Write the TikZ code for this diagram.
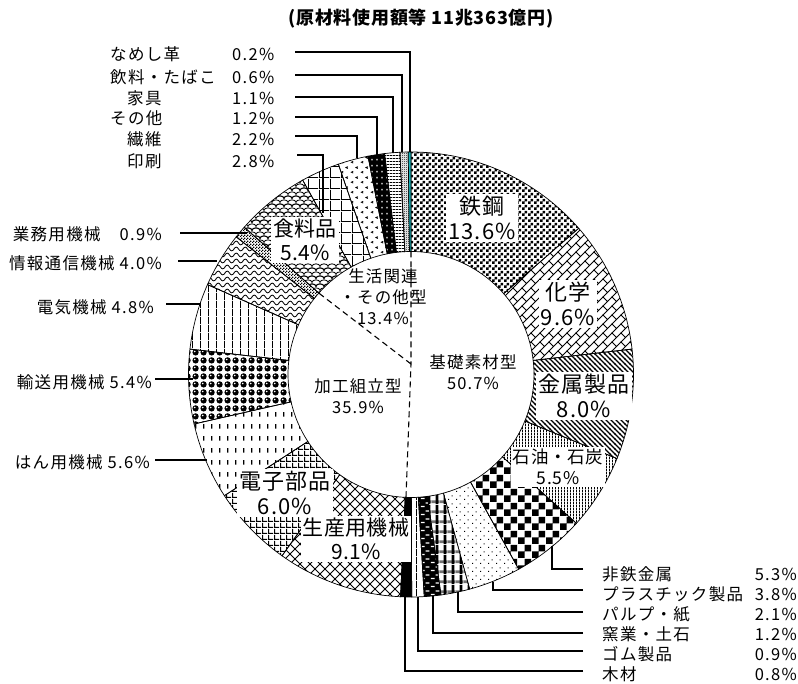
\documentclass[tikz,border=0pt]{standalone}
\usepackage{fontspec}
\setmainfont{Noto Sans CJK JP}
\usetikzlibrary{patterns,calc}

\definecolor{leather}{RGB}{24,178,184}

\pgfdeclarepatternformonly{sqdots}{\pgfpointorigin}{\pgfpoint{6pt}{6pt}}{\pgfpoint{6pt}{6pt}}{\pgfpathrectangle{\pgfpointorigin}{\pgfpoint{3pt}{3pt}}\pgfpathrectangle{\pgfpoint{3pt}{3pt}}{\pgfpoint{3pt}{3pt}}\pgfusepath{fill}}
\pgfdeclarepatternformonly{dbrick}{\pgfpoint{-1pt}{-1pt}}{\pgfpoint{10pt}{10pt}}{\pgfpoint{9pt}{9pt}}{\pgfsetlinewidth{0.8pt}\pgfpathmoveto{\pgfpoint{-0.5pt}{-0.5pt}}\pgfpathlineto{\pgfpoint{9.5pt}{9.5pt}}\pgfpathmoveto{\pgfpoint{0pt}{9pt}}\pgfpathlineto{\pgfpoint{4.5pt}{4.5pt}}\pgfusepath{stroke}}
\pgfdeclarepatternformonly{dlines}{\pgfpoint{-1pt}{-1pt}}{\pgfpoint{6pt}{6pt}}{\pgfpoint{5pt}{5pt}}{\pgfsetlinewidth{1.3pt}\pgfpathmoveto{\pgfpoint{-0.5pt}{5.5pt}}\pgfpathlineto{\pgfpoint{5.5pt}{-0.5pt}}\pgfusepath{stroke}}
\pgfdeclarepatternformonly{vfine}{\pgfpointorigin}{\pgfpoint{3pt}{3pt}}{\pgfpoint{3pt}{3pt}}{\pgfpathrectangle{\pgfpointorigin}{\pgfpoint{1.1pt}{3pt}}\pgfusepath{fill}}
\pgfdeclarepatternformonly{vmid}{\pgfpointorigin}{\pgfpoint{8pt}{8pt}}{\pgfpoint{8pt}{8pt}}{\pgfpathrectangle{\pgfpointorigin}{\pgfpoint{1pt}{8pt}}\pgfusepath{fill}}
\pgfdeclarepatternformonly{hlines}{\pgfpointorigin}{\pgfpoint{3pt}{3pt}}{\pgfpoint{3pt}{3pt}}{\pgfpathrectangle{\pgfpointorigin}{\pgfpoint{3pt}{1.1pt}}\pgfusepath{fill}}
\pgfdeclarepatternformonly{checker}{\pgfpointorigin}{\pgfpoint{14pt}{14pt}}{\pgfpoint{14pt}{14pt}}{\pgfpathrectangle{\pgfpointorigin}{\pgfpoint{7pt}{7pt}}\pgfpathrectangle{\pgfpoint{7pt}{7pt}}{\pgfpoint{7pt}{7pt}}\pgfusepath{fill}}
\pgfdeclarepatternformonly{minick}{\pgfpointorigin}{\pgfpoint{3pt}{3pt}}{\pgfpoint{3pt}{3pt}}{\pgfpathrectangle{\pgfpointorigin}{\pgfpoint{1.5pt}{1.5pt}}\pgfpathrectangle{\pgfpoint{1.5pt}{1.5pt}}{\pgfpoint{1.5pt}{1.5pt}}\pgfusepath{fill}}
\pgfdeclarepatternformonly{fineck}{\pgfpointorigin}{\pgfpoint{2pt}{2pt}}{\pgfpoint{2pt}{2pt}}{\pgfpathrectangle{\pgfpointorigin}{\pgfpoint{1pt}{1pt}}\pgfpathrectangle{\pgfpoint{1pt}{1pt}}{\pgfpoint{1pt}{1pt}}\pgfusepath{fill}}
\pgfdeclarepatternformonly{sdots}{\pgfpointorigin}{\pgfpoint{8pt}{8pt}}{\pgfpoint{8pt}{8pt}}{\pgfpathrectangle{\pgfpointorigin}{\pgfpoint{1.2pt}{1.2pt}}\pgfpathrectangle{\pgfpoint{4pt}{4pt}}{\pgfpoint{1.2pt}{1.2pt}}\pgfusepath{fill}}
\pgfdeclarepatternformonly{wdash}{\pgfpointorigin}{\pgfpoint{10pt}{8pt}}{\pgfpoint{10pt}{8pt}}{\pgfpathrectangle{\pgfpoint{1pt}{1pt}}{\pgfpoint{4pt}{1.3pt}}\pgfpathrectangle{\pgfpoint{6pt}{5pt}}{\pgfpoint{4pt}{1.3pt}}\pgfusepath{fill}}
\pgfdeclarepatternformonly{wdots}{\pgfpointorigin}{\pgfpoint{5pt}{6pt}}{\pgfpoint{5pt}{6pt}}{\pgfpathrectangle{\pgfpoint{1.5pt}{2pt}}{\pgfpoint{1.6pt}{1.6pt}}\pgfusepath{fill}}
\pgfdeclarepatternformonly{xhatch}{\pgfpoint{-1pt}{-1pt}}{\pgfpoint{11pt}{11pt}}{\pgfpoint{10pt}{10pt}}{\pgfsetlinewidth{0.8pt}\pgfpathmoveto{\pgfpoint{-0.5pt}{-0.5pt}}\pgfpathlineto{\pgfpoint{10.5pt}{10.5pt}}\pgfpathmoveto{\pgfpoint{-0.5pt}{10.5pt}}\pgfpathlineto{\pgfpoint{10.5pt}{-0.5pt}}\pgfusepath{stroke}}
\pgfdeclarepatternformonly{smgrid}{\pgfpointorigin}{\pgfpoint{5.5pt}{5.5pt}}{\pgfpoint{5.5pt}{5.5pt}}{\pgfpathrectangle{\pgfpointorigin}{\pgfpoint{1.1pt}{5.5pt}}\pgfpathrectangle{\pgfpointorigin}{\pgfpoint{5.5pt}{1.1pt}}\pgfusepath{fill}}
\pgfdeclarepatternformonly{bgrid}{\pgfpointorigin}{\pgfpoint{11pt}{11pt}}{\pgfpoint{11pt}{11pt}}{\pgfpathrectangle{\pgfpointorigin}{\pgfpoint{1pt}{11pt}}\pgfpathrectangle{\pgfpointorigin}{\pgfpoint{11pt}{1pt}}\pgfusepath{fill}}
\pgfdeclarepatternformonly{vdash}{\pgfpointorigin}{\pgfpoint{8pt}{12pt}}{\pgfpoint{8pt}{12pt}}{\pgfpathrectangle{\pgfpoint{3.5pt}{3.5pt}}{\pgfpoint{1.3pt}{5pt}}\pgfusepath{fill}}
\pgfdeclarepatternformonly{wave}{\pgfpoint{-0.5pt}{0pt}}{\pgfpoint{9.5pt}{6pt}}{\pgfpoint{9pt}{6pt}}{\pgfsetlinewidth{0.8pt}\pgfpathmoveto{\pgfpoint{0pt}{3pt}}\pgfpathcurveto{\pgfpoint{1.5pt}{5.5pt}}{\pgfpoint{3pt}{5.5pt}}{\pgfpoint{4.5pt}{3pt}}\pgfpathcurveto{\pgfpoint{6pt}{0.5pt}}{\pgfpoint{7.5pt}{0.5pt}}{\pgfpoint{9pt}{3pt}}\pgfusepath{stroke}}
\pgfdeclarepatternformonly{scallop}{\pgfpoint{-4pt}{0pt}}{\pgfpoint{12pt}{9pt}}{\pgfpoint{8pt}{8pt}}{\pgfsetlinewidth{0.8pt}\pgfpathmoveto{\pgfpoint{0pt}{1.5pt}}\pgfpathcurveto{\pgfpoint{0pt}{5pt}}{\pgfpoint{8pt}{5pt}}{\pgfpoint{8pt}{1.5pt}}\pgfpathmoveto{\pgfpoint{-4pt}{5.5pt}}\pgfpathcurveto{\pgfpoint{-4pt}{9pt}}{\pgfpoint{4pt}{9pt}}{\pgfpoint{4pt}{5.5pt}}\pgfpathcurveto{\pgfpoint{4pt}{9pt}}{\pgfpoint{12pt}{9pt}}{\pgfpoint{12pt}{5.5pt}}\pgfusepath{stroke}}
\pgfdeclarepatternformonly{chev}{\pgfpointorigin}{\pgfpoint{10pt}{10pt}}{\pgfpoint{10pt}{10pt}}{\pgfsetlinewidth{0.9pt}\pgfpathmoveto{\pgfpoint{3.5pt}{1pt}}\pgfpathlineto{\pgfpoint{1.5pt}{2pt}}\pgfpathlineto{\pgfpoint{3.5pt}{3pt}}\pgfpathmoveto{\pgfpoint{8.5pt}{6pt}}\pgfpathlineto{\pgfpoint{6.5pt}{7pt}}\pgfpathlineto{\pgfpoint{8.5pt}{8pt}}\pgfusepath{stroke}}
\pgfdeclarepatterninherentlycolored{balls}{\pgfpointorigin}{\pgfpoint{8pt}{8pt}}{\pgfpoint{8pt}{8pt}}{\pgfsetfillcolor{black}\pgfpathcircle{\pgfpoint{4pt}{4pt}}{3.5pt}\pgfusepath{fill}\pgfsetfillcolor{white}\pgfpathcircle{\pgfpoint{3pt}{5pt}}{1pt}\pgfusepath{fill}}
\pgfdeclarepatterninherentlycolored{plaid}{\pgfpointorigin}{\pgfpoint{8pt}{10pt}}{\pgfpoint{8pt}{10pt}}{\pgfsetfillcolor{white}\pgfpathrectangle{\pgfpointorigin}{\pgfpoint{8pt}{10pt}}\pgfusepath{fill}\pgfsetfillcolor{black!55}\pgfpathrectangle{\pgfpoint{0pt}{1pt}}{\pgfpoint{8pt}{3pt}}\pgfusepath{fill}\pgfsetfillcolor{black}\pgfpathrectangle{\pgfpoint{4pt}{0pt}}{\pgfpoint{3pt}{10pt}}\pgfusepath{fill}}

\tikzset{
  rim/.style={draw=black, line width=.7pt},
  lead/.style={line width=1.1pt},
  grp/.style={line width=1.1pt, dash pattern=on 6pt off 4pt},
  ttl/.style={font=\fontsize{18}{21}\selectfont\bfseries\addfontfeature{LetterSpace=4}},
  lbl/.style={inner sep=0pt, font=\fontsize{16.5}{19}\selectfont\addfontfeature{LetterSpace=8}},
  big/.style={fill=white, inner sep=2pt, align=center, font=\fontsize{22}{25.5}\selectfont\addfontfeature{LetterSpace=5}},
  mid/.style={big, font=\fontsize{21}{24}\selectfont\addfontfeature{LetterSpace=2}},
  sml/.style={big, font=\fontsize{17.5}{21}\selectfont\addfontfeature{LetterSpace=4}},
  grpl/.style={align=center, inner sep=0pt, font=\fontsize{16.5}{21}\selectfont\addfontfeature{LetterSpace=7}}
}

\newcommand\seg[3]{\path[rim,#3] ($(c)+({-90+3.5964*#1}:222.5)$) arc[start angle={-90+3.5964*#1}, end angle={-90+3.5964*#2}, radius=222.5] -- ($(c)+({-90+3.5964*#2}:123)$) arc[start angle={-90+3.5964*#2}, end angle={-90+3.5964*#1}, radius=123] -- cycle;}

\begin{document}
\begin{tikzpicture}[x=1pt,y=-1pt]
\path[fill=white, use as bounding box] (0,0) rectangle (798,684);
\coordinate (c) at (411,374.5);

\seg{0}{13.6}{pattern=sqdots}
\seg{13.6}{23.2}{pattern=dbrick}
\seg{23.2}{31.2}{pattern=dlines}
\seg{31.2}{36.7}{pattern=vfine}
\seg{36.7}{42.0}{pattern=checker}
\seg{42.0}{45.8}{pattern=sdots}
\seg{45.8}{47.9}{pattern=plaid}
\seg{47.9}{49.1}{preaction={fill=black}, pattern=wdash, pattern color=white}
\seg{49.1}{50.0}{pattern=vmid}
\seg{50.0}{50.8}{fill=black}
\seg{50.8}{59.9}{pattern=xhatch}
\seg{59.9}{65.9}{pattern=smgrid}
\seg{65.9}{71.5}{pattern=vdash}
\seg{71.5}{76.9}{pattern=balls}
\seg{76.9}{81.7}{pattern=vmid}
\seg{81.7}{85.7}{pattern=wave}
\seg{85.7}{86.6}{pattern=minick}
\seg{86.6}{92.0}{pattern=scallop}
\seg{92.0}{94.8}{pattern=bgrid}
\seg{94.8}{97.0}{pattern=chev}
\seg{97.0}{98.2}{preaction={fill=black}, pattern=wdots, pattern color=white}
\seg{98.2}{99.3}{pattern=hlines}
\seg{99.3}{99.9}{pattern=fineck}
\seg{99.9}{100.1}{fill=leather}

\coordinate (m) at (411,364);
\coordinate (g1) at ($(c)+(-90:123)$);
\coordinate (g2) at ($(c)+({-90+3.5964*50.7}:123)$);
\coordinate (g3) at ($(c)+({-90+3.5964*86.6}:123)$);
\draw[grp] (g1) -- (m) -- (g2) (m) -- (g3);

\coordinate (t1) at (295,52); \coordinate (u1) at (410,152);
\coordinate (t2) at (295,75); \coordinate (u2) at (402,152);
\coordinate (t3) at (295,97); \coordinate (u3) at (393,153);
\coordinate (t4) at (295,117); \coordinate (u4) at (377,155);
\coordinate (t5) at (295,136); \coordinate (u5) at (357,158);
\coordinate (t6) at (297,155); \coordinate (u6) at (323,213);
\draw[lead] (t1) -| (u1) (t2) -| (u2) (t3) -| (u3) (t4) -| (u4) (t5) -| (u5) (t6) -| (u6);

\coordinate (a1) at (180,233); \coordinate (b1) at (247,233);
\coordinate (a2) at (178,261); \coordinate (b2) at (217,261);
\coordinate (a3) at (166,304); \coordinate (b3) at (200,304);
\coordinate (a4) at (155,379); \coordinate (b4) at (193,379);
\coordinate (a5) at (155,460); \coordinate (b5) at (207,460);
\draw[lead] (a1) -- (b1) (a2) -- (b2) (a3) -- (b3) (a4) -- (b4) (a5) -- (b5);

\coordinate (r1) at (583,569); \coordinate (s1) at (552,546);
\coordinate (r2) at (583,590); \coordinate (s2) at (493,582);
\coordinate (r3) at (583,612); \coordinate (s3) at (458,592);
\coordinate (r4) at (583,633); \coordinate (s4) at (433,596);
\coordinate (r5) at (583,651); \coordinate (s5) at (418,597);
\coordinate (r6) at (583,671); \coordinate (s6) at (405,597);
\draw[lead] (r1) -| (s1) (r2) -| (s2) (r3) -| (s3) (r4) -| (s4) (r5) -| (s5) (r6) -| (s6);

\node[ttl] (title) at (421,19) {(原材料使用額等 11兆363億円)};

\node[lbl, anchor=west] (n1) at (110,54) {なめし革};
\node[lbl, anchor=west] (n2) at (110,77) {飲料・たばこ};
\node[lbl, anchor=west] (n3) at (127,98) {家具};
\node[lbl, anchor=west] (n4) at (110,118) {その他};
\node[lbl, anchor=west] (n5) at (127,139) {繊維};
\node[lbl, anchor=west] (n6) at (127,161) {印刷};
\node[lbl, anchor=west] (q1) at (232,54) {0.2\%};
\node[lbl, anchor=west] (q2) at (232,77) {0.6\%};
\node[lbl, anchor=west] (q3) at (232,98) {1.1\%};
\node[lbl, anchor=west] (q4) at (232,118) {1.2\%};
\node[lbl, anchor=west] (q5) at (232,139) {2.2\%};
\node[lbl, anchor=west] (q6) at (232,161) {2.8\%};

\node[lbl, anchor=east] (k1) at (162,234) {業務用機械　0.9\%};
\node[lbl, anchor=east] (k2) at (162,263) {情報通信機械 4.0\%};
\node[lbl, anchor=east] (k3) at (154,307) {電気機械 4.8\%};
\node[lbl, anchor=east] (k4) at (152,382) {輸送用機械 5.4\%};
\node[lbl, anchor=east] (k5) at (150,462) {はん用機械 5.6\%};

\node[lbl, anchor=west] (h1) at (602,574) {非鉄金属};
\node[lbl, anchor=west] (h2) at (602,594) {プラスチック製品};
\node[lbl, anchor=west] (h3) at (602,614) {パルプ・紙};
\node[lbl, anchor=west] (h4) at (602,634) {窯業・土石};
\node[lbl, anchor=west] (h5) at (602,654) {ゴム製品};
\node[lbl, anchor=west] (h6) at (602,674) {木材};
\node[lbl, anchor=east] (v1) at (797,574) {5.3\%};
\node[lbl, anchor=east] (v2) at (797,594) {3.8\%};
\node[lbl, anchor=east] (v3) at (797,614) {2.1\%};
\node[lbl, anchor=east] (v4) at (797,634) {1.2\%};
\node[lbl, anchor=east] (v5) at (797,654) {0.9\%};
\node[lbl, anchor=east] (v6) at (797,674) {0.8\%};

\node[big] (steel) at (482,218) {鉄鋼\\13.6\%};
\node[big] (chem) at (568,304) {化学\\9.6\%};
\node[big] (metal) at (584,396) {金属製品\\8.0\%};
\node[sml] (oil) at (558,467) {石油・石炭\\5.5\%};
\node[big] (elec) at (285,493) {電子部品\\6.0\%};
\node[mid] (prod) at (356,539) {生産用機械\\9.1\%};
\node[mid] (food) at (305,240) {食料品\\5.4\%};

\node[grpl] (life) at (383,297) {生活関連\\・その他型\\13.4\%};
\node[grpl] (basic) at (473,372) {基礎素材型\\50.7\%};
\node[grpl] (asm) at (358,396) {加工組立型\\35.9\%};
\end{tikzpicture}
\end{document}
